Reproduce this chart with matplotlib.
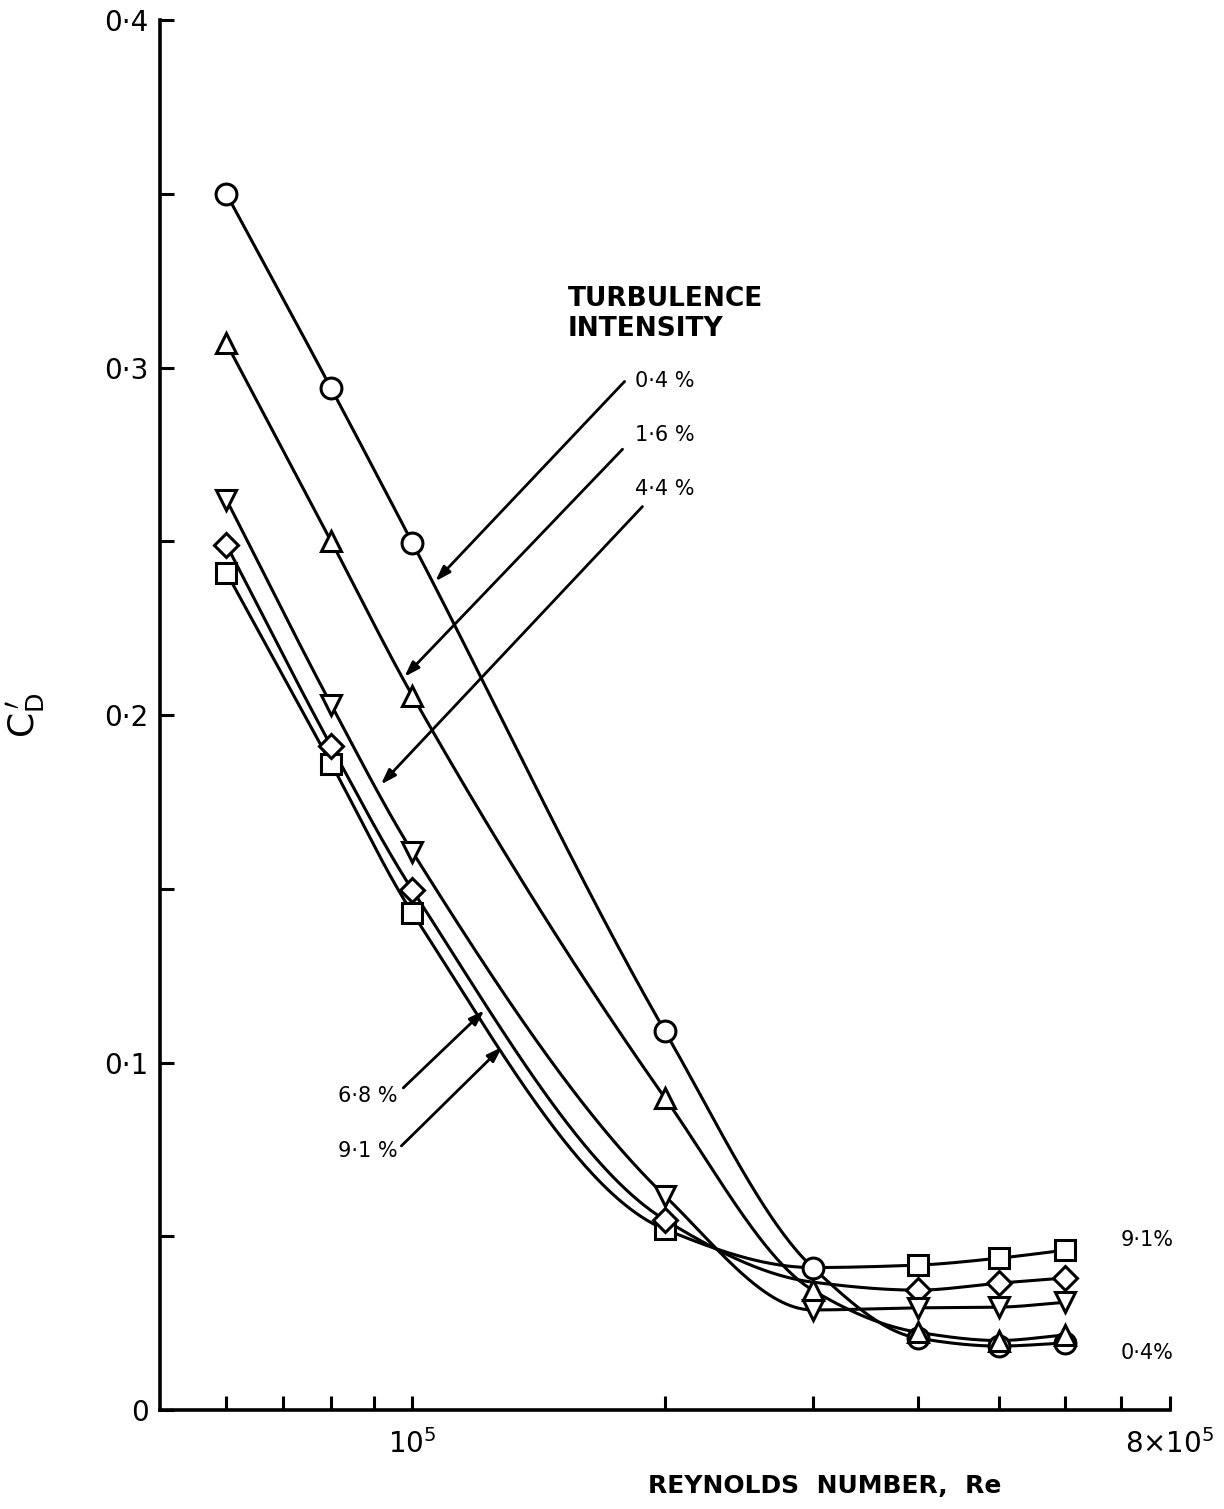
import matplotlib
matplotlib.use("Agg")
import matplotlib.pyplot as plt
import numpy as np

# Reynolds numbers of the measured points
re = np.array([6e4, 8e4, 1e5, 2e5, 3e5, 4e5, 5e5, 6e5])

# fluctuating drag coefficient for each turbulence intensity
cd_04 = np.array([0.350, 0.294, 0.2495, 0.109, 0.041, 0.0207, 0.0184, 0.0193])
cd_16 = np.array([0.307, 0.250, 0.2055, 0.0898, 0.0345, 0.0224, 0.0200, 0.0216])
cd_44 = np.array([0.262, 0.203, 0.1606, 0.0616, 0.0288, 0.0294, 0.0296, 0.0310])
cd_68 = np.array([0.249, 0.191, 0.1496, 0.0547, 0.0368, 0.0345, 0.0365, 0.0380])
cd_91 = np.array([0.241, 0.186, 0.1430, 0.0520, 0.0410, 0.0417, 0.0437, 0.0460])

# drawn back to front; marks hidden under others at 3x10^5 are skipped
series = [("9·1 %", cd_91, "s", [0, 1, 2, 3, 5, 6, 7]),
          ("6·8 %", cd_68, "D", [0, 1, 2, 3, 5, 6, 7]),
          ("4·4 %", cd_44, "v", None),
          ("0·4 %", cd_04, "o", None),
          ("1·6 %", cd_16, "^", None)]

xtick_pos = [6e4, 7e4, 8e4, 9e4, 1e5, 2e5, 3e5, 4e5, 5e5, 6e5, 7e5, 8e5]
xtick_lab = {1e5: r"$10^5$", 8e5: r"$8{\times}10^5$"}
ytick_pos = np.arange(0, 0.401, 0.05)
ytick_lab = {0.0: "0", 0.1: "0·1", 0.2: "0·2", 0.3: "0·3", 0.4: "0·4"}


def pchip(x, y, xn):
    # monotone cubic through the points, only used to draw the smooth curve
    h = np.diff(x)
    dl = np.diff(y) / h
    d = np.zeros_like(y)
    d[0], d[-1] = dl[0], dl[-1]
    for k in range(1, len(x) - 1):
        if dl[k - 1] * dl[k] > 0:
            w1 = 2 * h[k] + h[k - 1]
            w2 = h[k] + 2 * h[k - 1]
            d[k] = (w1 + w2) / (w1 / dl[k - 1] + w2 / dl[k])
    out = np.empty_like(xn)
    for i, v in enumerate(xn):
        k = min(np.searchsorted(x, v, side="right") - 1, len(x) - 2)
        t = (v - x[k]) / h[k]
        h00 = 2 * t**3 - 3 * t**2 + 1
        h10 = t**3 - 2 * t**2 + t
        h01 = -2 * t**3 + 3 * t**2
        h11 = t**3 - t**2
        out[i] = h00 * y[k] + h10 * h[k] * d[k] + h01 * y[k + 1] + h11 * h[k] * d[k + 1]
    return out


plt.rcParams["font.family"] = ["DejaVu Sans"]
fig = plt.figure(figsize=(12.24, 15.09), dpi=100)
ax = fig.add_axes([0.1307, 0.0656, 0.8252, 0.9211])

lx = np.log10(re)
xs = np.linspace(lx[0], lx[-1], 400)
for name, cd, mk, every in series:
    ax.plot(10**xs, pchip(lx, cd, xs), color="black", lw=2.2, zorder=2)
    ax.plot(re, cd, mk, ms=15 if mk != "D" else 12, mfc="white", mec="black",
            mew=2.2, zorder=3, ls="none", markevery=every)

ax.set_xscale("log")
ax.set_xlim(5e4, 8e5)
ax.set_ylim(0, 0.4)
ax.spines["top"].set_visible(False)
ax.spines["right"].set_visible(False)
ax.spines["left"].set_linewidth(2.6)
ax.spines["bottom"].set_linewidth(2.6)
ax.minorticks_off()
ax.set_xticks(xtick_pos)
ax.set_xticklabels([xtick_lab.get(p, "") for p in xtick_pos])
ax.set_yticks(ytick_pos)
ax.set_yticklabels([ytick_lab.get(round(p, 2), "") for p in ytick_pos])
ax.tick_params(axis="both", direction="in", length=10, width=2.2, labelsize=20)
ax.tick_params(axis="x", pad=14)
ax.tick_params(axis="y", pad=8)

ax.set_xlabel("REYNOLDS  NUMBER,  Re", fontsize=18, fontweight="bold")
ax.xaxis.set_label_coords(0.658, -0.046)
ax.set_ylabel(r"$\mathrm{C}_\mathrm{D}^{\,\prime}$", fontsize=26, rotation=90)
ax.yaxis.set_label_coords(-0.112, 0.5)

ax.text(1.53e5, 0.3155, "TURBULENCE\nINTENSITY", fontsize=19, fontweight="bold",
        ha="left", va="center", linespacing=1.2)

arrow = dict(arrowstyle="-|>,head_length=0.9,head_width=0.3", color="black", lw=2,
             shrinkA=0, shrinkB=0)
# label, arrow tip, arrow tail, label position, alignment
notes = [("0·4 %", (1.065e5, 0.2385), (1.79e5, 0.2960), (1.84e5, 0.2960), "left"),
         ("1·6 %", (9.78e4, 0.2110), (1.78e5, 0.2765), (1.84e5, 0.2805), "left"),
         ("4·4 %", (9.17e4, 0.1800), (1.88e5, 0.2600), (1.84e5, 0.2650), "left"),
         ("6·8 %", (1.218e5, 0.1150), (9.75e4, 0.0927), (9.6e4, 0.0905), "right"),
         ("9·1 %", (1.279e5, 0.1045), (9.7e4, 0.0760), (9.6e4, 0.0745), "right")]
for lab, tip, tail, pos, ha in notes:
    ax.annotate("", xy=tip, xytext=tail, arrowprops=arrow)
    ax.text(pos[0], pos[1], lab, fontsize=15, ha=ha, va="center")

ax.text(6.98e5, 0.0490, "9·1%", fontsize=15, ha="left", va="center", clip_on=False)
ax.text(6.98e5, 0.0165, "0·4%", fontsize=15, ha="left", va="center", clip_on=False)

fig.savefig("out.png", dpi=100)
